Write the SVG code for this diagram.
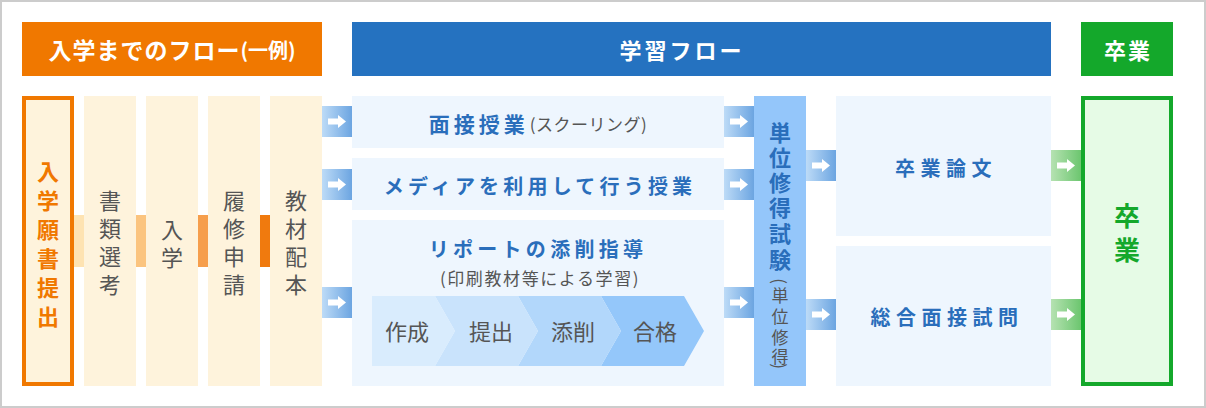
<svg xmlns="http://www.w3.org/2000/svg" width="1206" height="408" viewBox="0 0 1206 408">
<defs>
<style>
text{font-family:"Noto Sans CJK JP","Noto Sans",sans-serif;dominant-baseline:central;text-anchor:middle}
.hd{fill:#fff;font-weight:bold}
.col{fill:#fef3dc}
.vg{fill:#555;font-size:22px}
.bl{fill:#2a6ebb;font-weight:bold}
.gy{fill:#555}
.mid{fill:#eef6fe}
.chv{fill:#555;font-size:22px}
.arw{fill:#fff}
</style>
<linearGradient id="gb" x1="0" x2="1" y1="0" y2="0"><stop offset="0" stop-color="#bddbf7"/><stop offset="1" stop-color="#6ca5e1"/></linearGradient>
<linearGradient id="gg" x1="0" x2="1" y1="0" y2="0"><stop offset="0" stop-color="#b6e2b2"/><stop offset="1" stop-color="#6cc66f"/></linearGradient>
<path id="ar" d="M-9,-3 H1 V-6.5 L9,0 L1,6.5 V3 H-9 Z"/>
</defs>
<rect x="1" y="1" width="1204" height="406" fill="#fff" stroke="#cccccc" stroke-width="2"/>

<g id="headers">
<rect x="22" y="22" width="300" height="54" fill="#f07800"/>
<text class="hd" x="172" y="49"><tspan font-size="23" letter-spacing="1">入学までのフロー</tspan><tspan font-size="20">(一例)</tspan></text>
<rect x="352" y="22" width="699" height="54" fill="#2572c0"/>
<text class="hd" x="682" y="49" font-size="22" letter-spacing="3">学習フロー</text>
<rect x="1081" y="22" width="92" height="54" fill="#14a82b"/>
<text class="hd" x="1128" y="49" font-size="22" letter-spacing="2">卒業</text>
</g>

<g id="connectors">
<rect x="74" y="215" width="10" height="52" fill="#fee3b2"/>
<rect x="136" y="215" width="10" height="52" fill="#fbc47f"/>
<rect x="198" y="215" width="10" height="52" fill="#f69e4c"/>
<rect x="260" y="215" width="10" height="52" fill="#f07a0e"/>
<g>
<rect x="322" y="106" width="30" height="31" fill="url(#gb)"/><use href="#ar" x="337" y="121.5" class="arw"/>
<rect x="322" y="169" width="30" height="31" fill="url(#gb)"/><use href="#ar" x="337" y="184.5" class="arw"/>
<rect x="322" y="287" width="30" height="31" fill="url(#gb)"/><use href="#ar" x="337" y="302.5" class="arw"/>
<rect x="724" y="106" width="30" height="31" fill="url(#gb)"/><use href="#ar" x="739" y="121.5" class="arw"/>
<rect x="724" y="169" width="30" height="31" fill="url(#gb)"/><use href="#ar" x="739" y="184.5" class="arw"/>
<rect x="724" y="287" width="30" height="31" fill="url(#gb)"/><use href="#ar" x="739" y="302.5" class="arw"/>
<rect x="806" y="150" width="30" height="31" fill="url(#gb)"/><use href="#ar" x="821" y="165.5" class="arw"/>
<rect x="806" y="299" width="30" height="31" fill="url(#gb)"/><use href="#ar" x="821" y="314.5" class="arw"/>
<rect x="1051" y="150" width="30" height="31" fill="url(#gg)"/><use href="#ar" x="1066" y="165.5" class="arw"/>
<rect x="1051" y="299" width="30" height="31" fill="url(#gg)"/><use href="#ar" x="1066" y="314.5" class="arw"/>
</g>
</g>

<g id="node-application">
<rect x="24" y="98" width="48" height="286" fill="#fef3dc" stroke="#f07800" stroke-width="4"/>
<text fill="#f07800" font-weight="bold" font-size="22"><tspan x="48" y="170">入</tspan><tspan x="48" y="199">学</tspan><tspan x="48" y="228">願</tspan><tspan x="48" y="257">書</tspan><tspan x="48" y="286">提</tspan><tspan x="48" y="315">出</tspan></text>
</g>
<g id="node-screening">
<rect class="col" x="84" y="96" width="52" height="290"/>
<text class="vg"><tspan x="110" y="199">書</tspan><tspan x="110" y="227">類</tspan><tspan x="110" y="255">選</tspan><tspan x="110" y="283">考</tspan></text>
</g>
<g id="node-admission">
<rect class="col" x="146" y="96" width="52" height="290"/>
<text class="vg"><tspan x="172" y="228">入</tspan><tspan x="172" y="256">学</tspan></text>
</g>
<g id="node-registration">
<rect class="col" x="208" y="96" width="52" height="290"/>
<text class="vg"><tspan x="234" y="199">履</tspan><tspan x="234" y="227">修</tspan><tspan x="234" y="255">申</tspan><tspan x="234" y="283">請</tspan></text>
</g>
<g id="node-materials">
<rect class="col" x="270" y="96" width="52" height="290"/>
<text class="vg"><tspan x="296" y="199">教</tspan><tspan x="296" y="227">材</tspan><tspan x="296" y="255">配</tspan><tspan x="296" y="283">本</tspan></text>
</g>

<g id="node-schooling">
<rect class="mid" x="352" y="96" width="372" height="52"/>
<text x="538" y="123"><tspan class="bl" font-size="21" letter-spacing="4">面接授業</tspan><tspan class="gy" font-size="17" letter-spacing="0.5" dx="1">(スクーリング)</tspan></text>
</g>
<g id="node-media">
<rect class="mid" x="352" y="158" width="372" height="52"/>
<text class="bl" x="540" y="185" font-size="20" letter-spacing="4.2">メディアを利用して行う授業</text>
</g>
<g id="node-report">
<rect class="mid" x="352" y="220" width="372" height="166"/>
<text class="bl" x="538" y="248" font-size="20" letter-spacing="4.3">リポートの添削指導</text>
<text class="gy" x="540" y="277" font-size="17" letter-spacing="1.6">(印刷教材等による学習)</text>
<polygon points="601,296 684,296 704,331 684,366 601,366 621,331" fill="#94c7fa"/>
<polygon points="518,296 601,296 621,331 601,366 518,366 538,331" fill="#b2d7fb"/>
<polygon points="435,296 518,296 538,331 518,366 435,366 455,331" fill="#c9e3fc"/>
<polygon points="372,296 435,296 455,331 435,366 372,366" fill="#d9ecfd"/>
<text class="chv" x="407" y="330">作成</text>
<text class="chv" x="491" y="330">提出</text>
<text class="chv" x="573" y="330">添削</text>
<text class="chv" x="655" y="330">合格</text>
</g>

<g id="node-exam">
<rect x="754" y="96" width="52" height="290" fill="#94c6fa"/>
<text class="bl" font-size="22"><tspan x="780" y="131">単</tspan><tspan x="780" y="156">位</tspan><tspan x="780" y="181">修</tspan><tspan x="780" y="206">得</tspan><tspan x="780" y="232">試</tspan><tspan x="780" y="258">験</tspan></text>
<text class="gy" font-size="17" transform="rotate(90 780 281)" x="780" y="281">(</text>
<text class="gy" font-size="17"><tspan x="780" y="294">単</tspan><tspan x="780" y="315">位</tspan><tspan x="780" y="336">修</tspan><tspan x="780" y="355">得</tspan></text>
<text class="gy" font-size="17" transform="rotate(90 780 366)" x="780" y="366">)</text>
</g>

<g id="node-thesis">
<rect class="mid" x="836" y="96" width="215" height="140"/>
<text class="bl" x="946" y="167" font-size="20" letter-spacing="5.5">卒業論文</text>
</g>
<g id="node-interview">
<rect class="mid" x="836" y="246" width="215" height="140"/>
<text class="bl" x="947" y="316" font-size="20" letter-spacing="5.5">総合面接試問</text>
</g>

<g id="node-graduation">
<rect x="1083" y="98" width="88" height="286" fill="#e6fbe6" stroke="#14a82b" stroke-width="4"/>
<text fill="#14a82b" font-weight="bold" font-size="26"><tspan x="1127" y="214">卒</tspan><tspan x="1127" y="248">業</tspan></text>
</g>
</svg>
